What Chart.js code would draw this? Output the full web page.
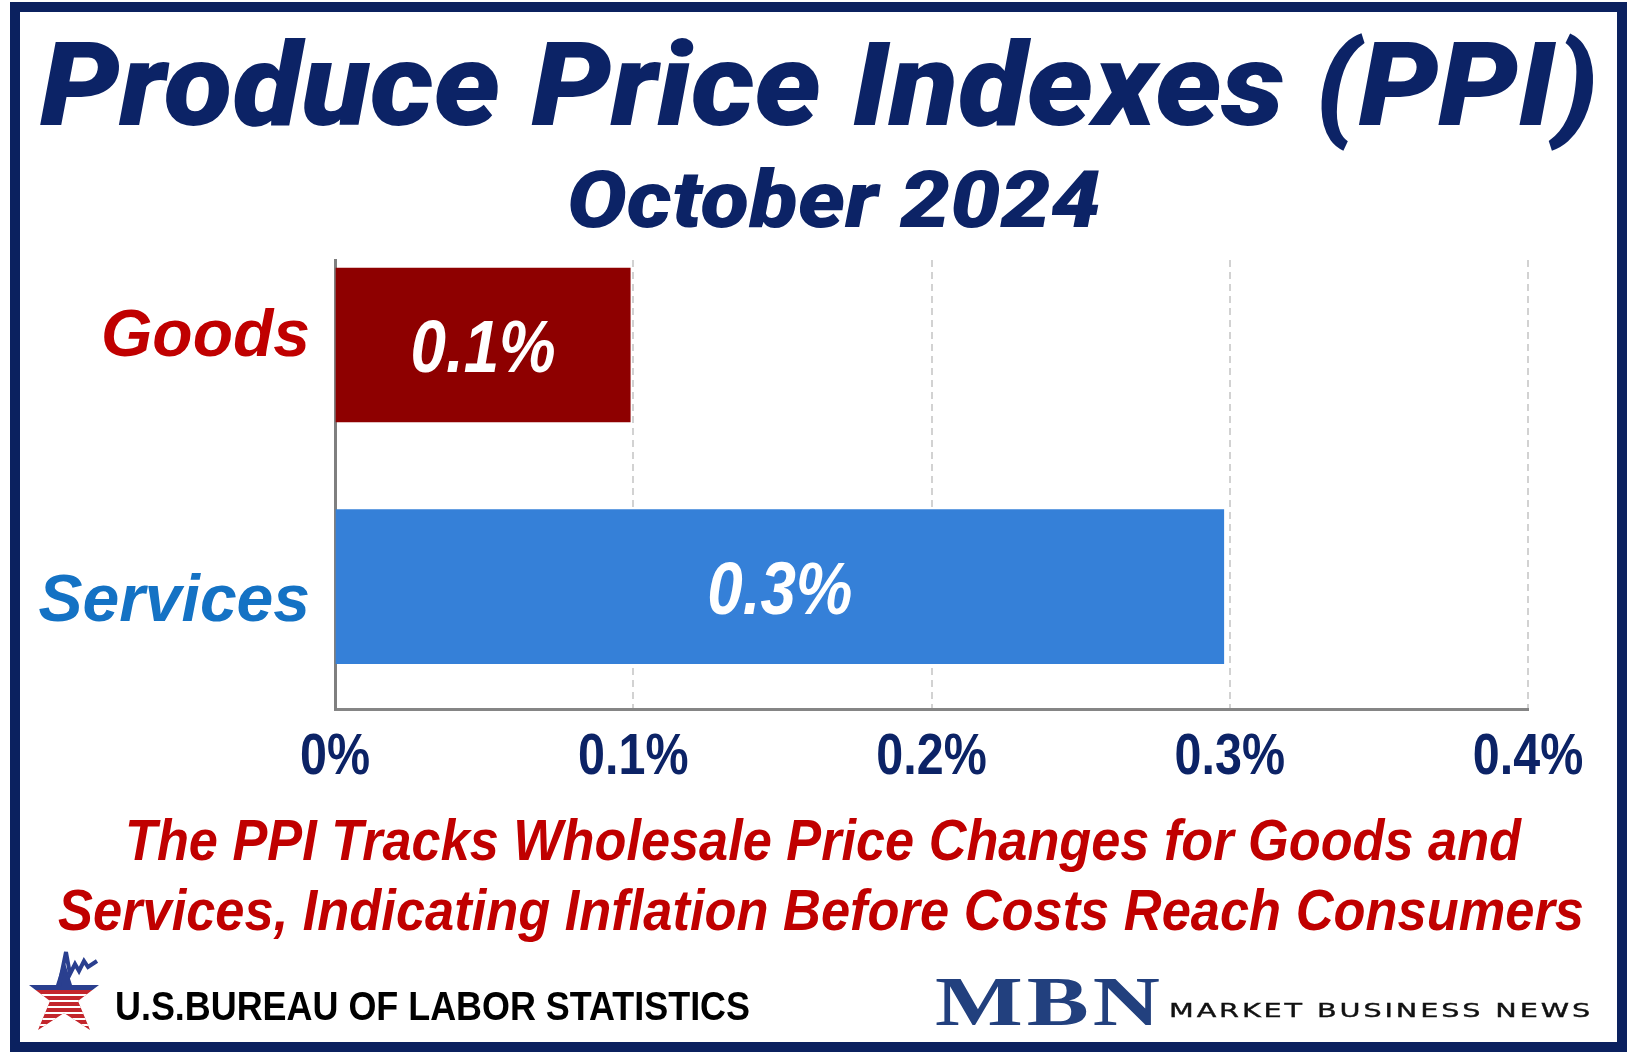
<!DOCTYPE html>
<html>
<head>
<meta charset="utf-8">
<script src="https://cdn.jsdelivr.net/npm/chart.js@4.4.1/dist/chart.umd.min.js"></script>
<style>
  html, body { margin: 0; padding: 0; background: #fff; }
  #page { position: relative; width: 1634px; height: 1058px; overflow: hidden; background: #fff; }
  #frame { position: absolute; left: 10px; top: 2px; width: 1617px; height: 1050px; box-sizing: border-box; border: 10px solid #0b215f; }
  #chartBox { position: absolute; left: 0; top: 0; width: 1634px; height: 1058px; }
  .txt { position: absolute; white-space: nowrap; line-height: 1; transform-origin: 0 0; }
  .txt i.bl { display: inline-block; width: 0; height: 0; vertical-align: baseline; }
  #title { font: italic 900 117px "Roboto", "Liberation Sans", sans-serif; color: #0c2366; }
  #subtitle { font: italic 900 80px "Roboto", "Liberation Sans", sans-serif; color: #0c2366; }
  .note { font: italic bold 58px "Liberation Sans", Arial, sans-serif; color: #c00000; }
  #bls { font: bold 41px "Liberation Sans", Arial, sans-serif; color: #000; }
  #mbn { font: bold 70px "Liberation Serif", serif; color: #22407e; letter-spacing: 3px; }
  #mbnSub { font: 20px "DejaVu Sans", sans-serif; color: #111; letter-spacing: 2px; -webkit-text-stroke: 0.4px #111; }
  #blsLogo { position: absolute; left: 28px; top: 950px; }
</style>
</head>
<body>
<div id="page">
  <div id="frame"></div>
  <div id="chartBox"><canvas id="ppiChart" width="1634" height="1058"></canvas></div>
  <div class="txt" id="title">Produce Price Indexes (PPI)</div>
  <div class="txt" id="subtitle">October 2024</div>
  <div class="txt note" id="note1">The PPI Tracks Wholesale Price Changes for Goods and</div>
  <div class="txt note" id="note2">Services, Indicating Inflation Before Costs Reach Consumers</div>
  <svg id="blsLogo" width="72" height="82" viewBox="0 0 72 82">
    <defs>
      <clipPath id="starClip">
        <polygon points="36,10 44,35 71,35 50,51 62,80 36,63 10,80 22,51 1,35 28,35"/>
      </clipPath>
    </defs>
    <g clip-path="url(#starClip)">
      <rect x="0" y="0" width="72" height="40" fill="#2a3f8f"/>
      <rect x="0" y="40" width="72" height="42" fill="#c3262c"/>
      <rect x="0" y="44" width="72" height="2" fill="#fff"/>
      <rect x="0" y="50" width="72" height="2" fill="#fff"/>
      <rect x="0" y="56" width="72" height="2" fill="#fff"/>
      <rect x="0" y="62" width="72" height="2" fill="#fff"/>
      <rect x="0" y="68" width="72" height="2" fill="#fff"/>
      <rect x="0" y="74" width="72" height="2" fill="#fff"/>
    </g>
    <polyline points="31,36 38,2 42,24 47,14 51,21 56,11 60,17 69,11" fill="none" stroke="#2a3f8f" stroke-width="4" stroke-linejoin="miter"/>
  </svg>
  <div class="txt" id="bls">U.S.BUREAU OF LABOR STATISTICS</div>
  <div class="txt" id="mbn">MBN</div>
  <div class="txt" id="mbnSub">MARKET BUSINESS NEWS</div>
</div>
<script>
// --- Data ---
const categories = ['Goods', 'Services'];
const categoryPositions = [0, 1];
const categoryLabelPositions = [-0.03, 1.068];   // labels sit a little off the bar centres
const changeValues = [0.099, 0.298];
const valueLabels = ['0.1%', '0.3%'];
const barColors = ['#8e0000', '#3580d8'];
const categoryColors = ['#c00000', '#1472c4'];
const xTickValues = [0, 0.1, 0.2, 0.3, 0.4];
const xTickLabels = ['0%', '0.1%', '0.2%', '0.3%', '0.4%'];

// Stretch a text block so it spans left..right with its baseline at y
function placeText(id, left, right, baseline) {
    const el = document.getElementById(id);
    const mark = document.createElement('i');
    mark.className = 'bl';
    el.appendChild(mark);
    const w = el.getBoundingClientRect().width;
    const b = mark.offsetTop;
    el.style.left = left + 'px';
    el.style.top = (baseline - b) + 'px';
    el.style.transform = `scaleX(${(right - left) / w})`;
}

// condensed text helper (no narrow font installed)
function squeezeText(ctx, text, x, y, sx) {
    ctx.save();
    ctx.translate(x, y);
    ctx.scale(sx, 1);
    ctx.fillText(text, 0, 0);
    ctx.restore();
}

// White value labels centred in each bar
const barLabelPlugin = {
    id: 'barLabels',
    afterDatasetsDraw(chart) {
        const ctx = chart.ctx;
        const meta = chart.getDatasetMeta(0);
        ctx.save();
        ctx.font = 'italic bold 75px "Liberation Sans", Arial, sans-serif';
        ctx.fillStyle = '#ffffff';
        ctx.textAlign = 'center';
        ctx.textBaseline = 'alphabetic';
        meta.data.forEach((bar, i) => {
            squeezeText(ctx, valueLabels[i], (bar.x + bar.base) / 2, bar.y + 27, 0.85);
        });
        ctx.restore();
    }
};

// x tick labels, drawn narrow like the original
const xLabelPlugin = {
    id: 'xLabels',
    afterDraw(chart) {
        const ctx = chart.ctx;
        const xs = chart.scales.x;
        ctx.save();
        ctx.font = 'bold 57px "Liberation Sans", Arial, sans-serif';
        ctx.fillStyle = '#0c2366';
        ctx.textAlign = 'center';
        ctx.textBaseline = 'alphabetic';
        xs.ticks.forEach((t, i) => {
            squeezeText(ctx, xTickLabels[i], xs.getPixelForValue(t.value), xs.top + 65, 0.85);
        });
        ctx.restore();
    }
};

function drawChart() {
    const ctx = document.getElementById('ppiChart').getContext('2d');
    new Chart(ctx, {
        type: 'bar',
        data: {
            datasets: [{
                data: categories.map((c, i) => ({ x: changeValues[i], y: categoryPositions[i] })),
                backgroundColor: barColors,
                borderWidth: 0,
                barThickness: 154
            }]
        },
        options: {
            indexAxis: 'y',
            responsive: false,
            animation: false,
            layout: { padding: { left: 0, top: 260, right: 106, bottom: 269 } },
            plugins: { legend: { display: false }, tooltip: { enabled: false } },
            scales: {
                x: {
                    type: 'linear',
                    min: 0,
                    max: 0.4,
                    afterBuildTicks: s => { s.ticks = xTickValues.map(v => ({ value: v })); },
                    afterFit: s => { s.height = 80; },
                    grid: {
                        color: c => (c.tick && c.tick.value === 0) ? 'rgba(0,0,0,0)' : '#d2d2d2',
                        lineWidth: 2,
                        drawTicks: false
                    },
                    border: { display: true, color: '#858585', width: 3, dash: [7, 5] },
                    ticks: { display: false }
                },
                y: {
                    type: 'linear',
                    reverse: true,
                    offset: false,
                    min: -0.352,
                    max: 1.507,
                    afterBuildTicks: s => { s.ticks = categoryLabelPositions.map(v => ({ value: v })); },
                    afterFit: s => { s.width = 335; },
                    grid: { display: false, drawTicks: false, offset: false },
                    border: { display: true, color: '#7f7f7f', width: 3 },
                    ticks: {
                        callback: (v, i) => categories[i],
                        color: c => categoryColors[c.index],
                        font: { family: '"Liberation Sans", Arial, sans-serif', size: 66, weight: 'bold', style: 'italic' },
                        padding: 25,
                        autoSkip: false
                    }
                }
            }
        },
        plugins: [barLabelPlugin, xLabelPlugin]
    });
}

document.fonts.ready.then(() => {
    placeText('title', 40, 1598, 125);
    placeText('subtitle', 567, 1101, 227);
    placeText('note1', 125, 1521, 860);
    placeText('note2', 58, 1584, 930);
    placeText('bls', 115, 750, 1020);
    placeText('mbn', 935, 1164, 1025);
    placeText('mbnSub', 1169, 1593, 1017);
    drawChart();
});
</script>
</body>
</html>
